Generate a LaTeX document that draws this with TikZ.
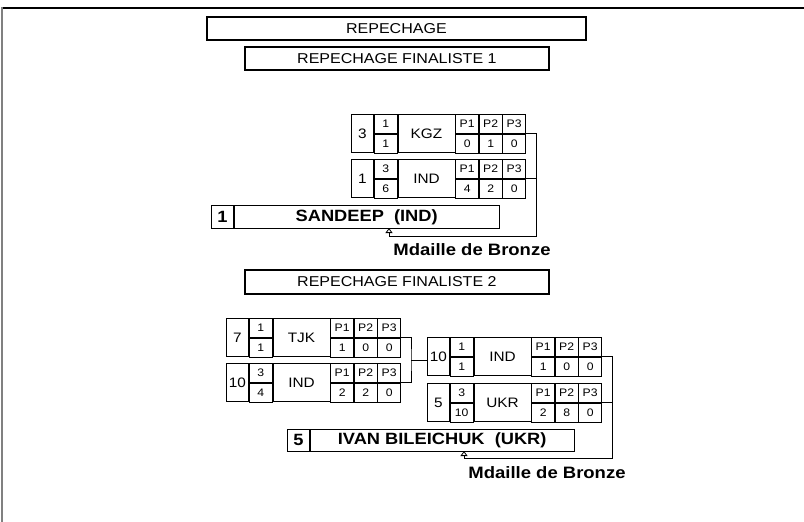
\documentclass[tikz,border=0pt]{standalone}
\usepackage{fontspec}
\setmainfont{Liberation Sans}[FakeStretch=1.12]
\usetikzlibrary{arrows.meta, positioning}

% one line of a bout: seed, fraction, nation and the three periods
\newcommand{\athlete}[9]{%
  \node[cell, seedfont, minimum width=22pt, minimum height=38pt, anchor=north west] (#1-seed) at (#2) {#3};
  \node[cell, smallfont, minimum width=23pt, minimum height=19pt, right=0pt of #1-seed.north east, anchor=north west] (#1-up) {#4};
  \node[cell, smallfont, minimum width=23pt, minimum height=19pt, below=0pt of #1-up.south west, anchor=north west] (#1-down) {#5};
  \node[cell, seedfont, minimum width=57pt, minimum height=38pt, right=0pt of #1-up.north east, anchor=north west] (#1-nat) {#6};
  \node[pcell, right=0pt of #1-nat.north east, anchor=north west] (#1-h1) {P1};
  \node[pcell, right=0pt of #1-h1.north east, anchor=north west] (#1-h2) {P2};
  \node[pcell, right=0pt of #1-h2.north east, anchor=north west] (#1-h3) {P3};
  \node[pcell, below=0pt of #1-h1.south west, anchor=north west] (#1-p1) {#7};
  \node[pcell, below=0pt of #1-h2.south west, anchor=north west] (#1-p2) {#8};
  \node[pcell, below=0pt of #1-h3.south west, anchor=north west] (#1-p3) {#9};
}

\begin{document}
\begin{tikzpicture}[
        x=1pt, y=-1pt,
        line width=0.8pt
    ]
    \tikzset{
        cell/.style = {draw, inner sep=0pt},
        pcell/.style = {cell, smallfont, minimum width=22.7pt, minimum height=19pt},
        smallfont/.style = {font=\fontsize{10.9}{11}\selectfont},
        seedfont/.style = {font=\fontsize{13.7}{14}\selectfont},
        winfont/.style = {font=\bfseries\fontsize{16.3}{17}\selectfont},
        titlebox/.style = {draw, line width=1.8pt, inner sep=0pt, anchor=north west,
                           font=\fontsize{14.3}{15}\selectfont},
        medal/.style = {font=\bfseries\fontsize{16.5}{17}\selectfont},
        tobronze/.style = {-{Triangle[open, width=7pt, length=5pt]}}
    }
    \useasboundingbox (0,0) rectangle (804,522);

    % frame
    \draw[line width=1.1pt] (3,8) -- (804,8);
    \draw[gray, line width=2pt] (2,7) -- (2,522);

    % Titles
    \node[titlebox, minimum width=379pt, minimum height=23pt] (rep) at (206,16) {REPECHAGE};
    \node[titlebox, minimum width=304pt, minimum height=23pt] (fin1) at (244,46) {REPECHAGE FINALISTE 1};
    \node[titlebox, minimum width=304pt, minimum height=24pt] (fin2) at (244,269) {REPECHAGE FINALISTE 2};

    % Finaliste 1
    \athlete{kgz}{351,114}{3}{1}{1}{KGZ}{0}{1}{0}
    \athlete{inda}{351,159}{1}{3}{6}{IND}{4}{2}{0}

    \node[cell, winfont, minimum width=22pt, minimum height=23pt, anchor=north west] (san-rank) at (211,205) {1};
    \node[cell, winfont, minimum width=265pt, minimum height=23pt, right=0pt of san-rank.north east, anchor=north west] (san-name) {SANDEEP\ \ (IND)};

    \coordinate (b1) at (536,236);
    \coordinate (t1) at (389,228);
    \draw[tobronze] (kgz-h3.south east) -| (b1) -| (t1);
    \draw (inda-h3.south east) -- (inda-h3.south east -| b1);
    \node[medal] (bronze1) at (472,250) {Mdaille de Bronze};

    % Finaliste 2
    \athlete{tjk}{226,318}{7}{1}{1}{TJK}{1}{0}{0}
    \athlete{indb}{226,363}{10}{3}{4}{IND}{2}{2}{0}
    \athlete{indc}{427,337}{10}{1}{1}{IND}{1}{0}{0}
    \athlete{ukr}{427,383}{5}{3}{10}{UKR}{2}{8}{0}

    \coordinate (j2) at (411,360);
    \draw (tjk-h3.south east) -| (j2) |- (indb-h3.south east);
    \draw (j2) -- (j2 -| indc-seed.west);

    \node[cell, winfont, minimum width=22pt, minimum height=22pt, anchor=north west] (ivan-rank) at (287,429) {5};
    \node[cell, winfont, minimum width=264pt, minimum height=22pt, right=0pt of ivan-rank.north east, anchor=north west] (ivan-name) {IVAN BILEICHUK\ \ (UKR)};

    \coordinate (b2) at (612,458);
    \coordinate (t2) at (464,451);
    \draw[tobronze] (indc-h3.south east) -| (b2) -| (t2);
    \draw (ukr-h3.south east) -- (ukr-h3.south east -| b2);
    \node[medal] (bronze2) at (547,473) {Mdaille de Bronze};

\end{tikzpicture}
\end{document}
